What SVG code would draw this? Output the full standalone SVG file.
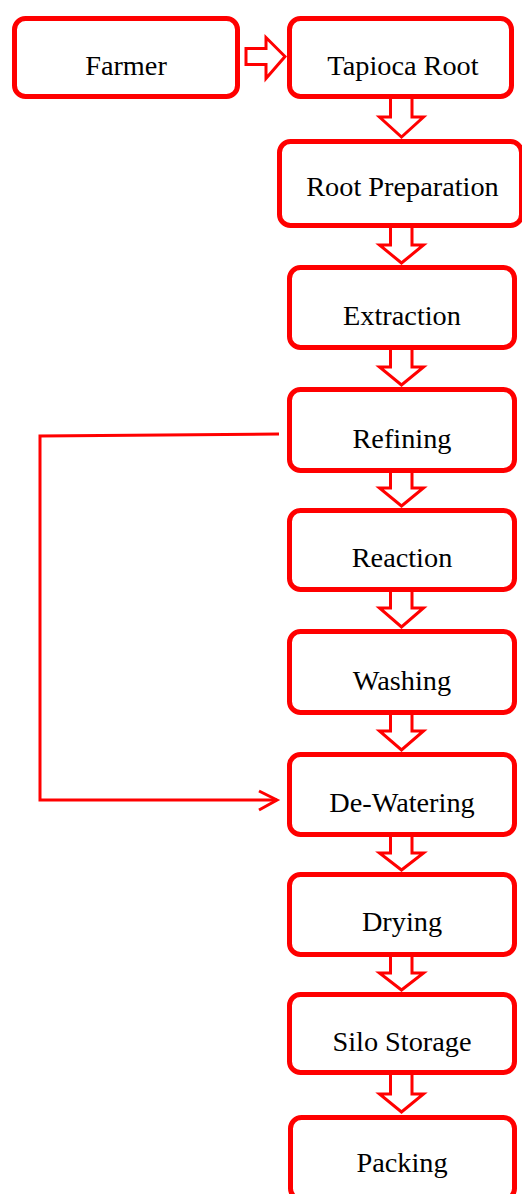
<svg xmlns="http://www.w3.org/2000/svg" width="522" height="1194" viewBox="0 0 522 1194">
<style>
.box{fill:#fff;stroke:#ff0000;stroke-width:5}
.lbl{font-family:"Liberation Serif","Times New Roman",serif;font-size:28.3px;fill:#000;text-anchor:middle}
.arr{fill:#fff;stroke:#ff0000;stroke-width:3;stroke-linejoin:miter}
.ln{fill:none;stroke:#ff0000;stroke-width:3}
</style>
<rect width="522" height="1194" fill="#fff"/>
<g id="connectors">
<path class="arr" d="M246 48.5 H266 V37.5 L285 56.5 L266 78.5 V64.5 H246 Z"/>
<path class="arr" d="M390.5 99 V117 H379.5 L401.5 137 L423.5 117 H412 V99"/>
<path class="arr" d="M390.5 228 V245 H379.5 L401.5 263 L423.5 245 H412 V228"/>
<path class="arr" d="M390.5 350 V367 H379.5 L401.5 385 L423.5 367 H412 V350"/>
<path class="arr" d="M390.5 473 V488 H379.5 L401.5 506 L423.5 488 H412 V473"/>
<path class="arr" d="M390.5 592 V608 H379.5 L401.5 627 L423.5 608 H412 V592"/>
<path class="arr" d="M390.5 715 V731 H379.5 L401.5 750 L423.5 731 H412 V715"/>
<path class="arr" d="M390.5 837 V853 H379.5 L401.5 870 L423.5 853 H412 V837"/>
<path class="arr" d="M390.5 957 V973 H379.5 L401.5 990 L423.5 973 H412 V957"/>
<path class="arr" d="M390.5 1075 V1094 H379.5 L401.5 1112 L423.5 1094 H412 V1075"/>
<polyline class="ln" points="279,434 40,436 40,800 277,800"/>
<polyline class="ln" points="259,791 277,800 259,810"/>
</g>
<g id="farmer"><rect class="box" x="14.5" y="18.5" width="223" height="78" rx="11"/><text class="lbl" x="126" y="75">Farmer</text></g>
<g id="tapioca-root"><rect class="box" x="289.5" y="18.5" width="222" height="78" rx="11"/><text class="lbl" x="403" y="75">Tapioca Root</text></g>
<g id="root-preparation"><rect class="box" x="279.5" y="141.5" width="242" height="84" rx="11"/><text class="lbl" x="402.5" y="196">Root Preparation</text></g>
<g id="extraction"><rect class="box" x="289.5" y="267.5" width="225" height="80" rx="11"/><text class="lbl" x="402" y="325">Extraction</text></g>
<g id="refining"><rect class="box" x="289.5" y="389.5" width="225" height="81" rx="11"/><text class="lbl" x="402" y="448">Refining</text></g>
<g id="reaction"><rect class="box" x="289.5" y="510.5" width="225" height="79" rx="11"/><text class="lbl" x="402" y="567">Reaction</text></g>
<g id="washing"><rect class="box" x="289.5" y="631.5" width="225" height="81" rx="11"/><text class="lbl" x="402" y="690">Washing</text></g>
<g id="de-watering"><rect class="box" x="289.5" y="754.5" width="225" height="80" rx="11"/><text class="lbl" x="402" y="812">De-Watering</text></g>
<g id="drying"><rect class="box" x="289.5" y="874.5" width="225" height="80" rx="11"/><text class="lbl" x="402" y="931">Drying</text></g>
<g id="silo-storage"><rect class="box" x="289.5" y="994.5" width="225" height="78" rx="11"/><text class="lbl" x="402" y="1051">Silo Storage</text></g>
<g id="packing"><rect class="box" x="290.5" y="1117.5" width="224" height="82" rx="11"/><text class="lbl" x="402" y="1172">Packing</text></g>
</svg>
